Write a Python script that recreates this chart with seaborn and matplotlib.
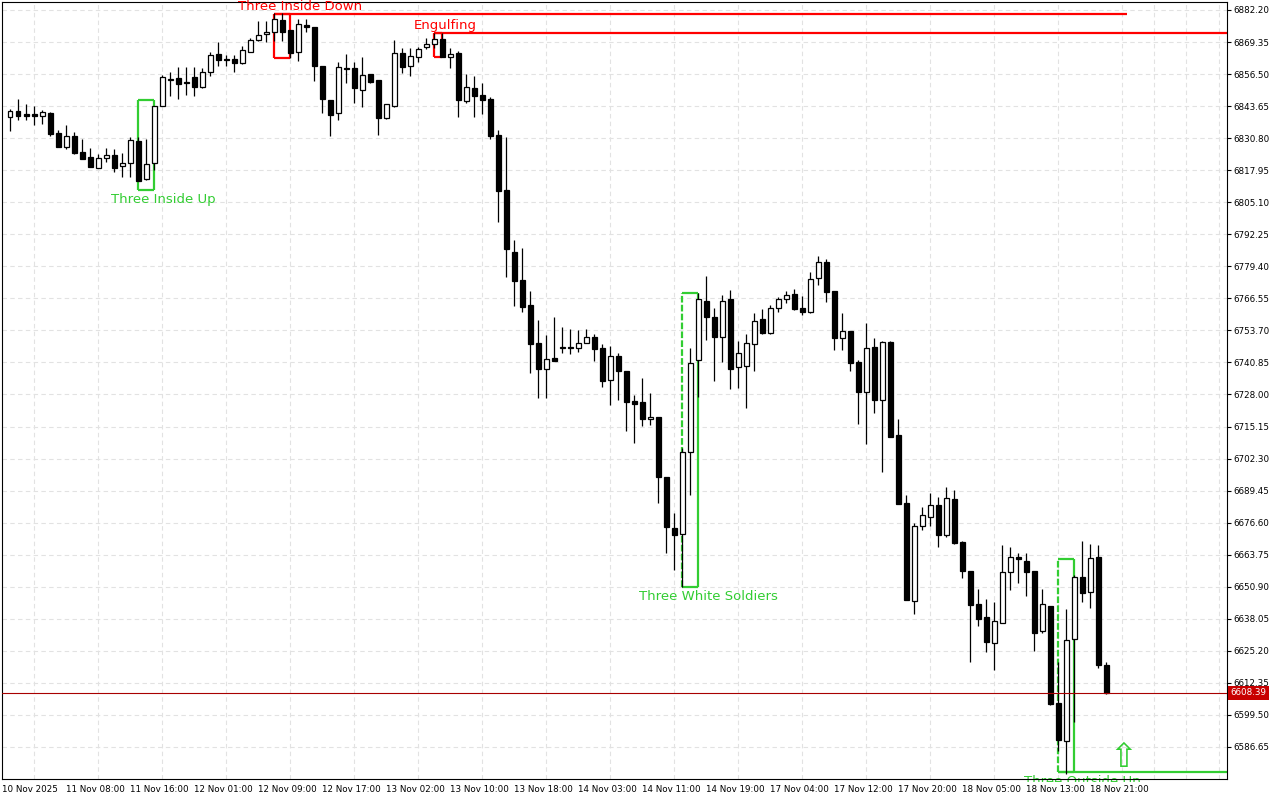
import numpy as np
import pandas as pd
import matplotlib
matplotlib.use("Agg")
import matplotlib.pyplot as plt
import matplotlib.transforms as mtransforms
import seaborn as sns

# hourly bars, 11 Nov 01:00 -> 18 Nov 22:00
opens = [6839.3, 6841.7, 6840.5, 6840.5, 6839.7, 6840.9, 6832.9, 6827.3, 6831.7, 6825.2,
         6823.2, 6818.8, 6822.8, 6824.0, 6819.6, 6820.8, 6829.7, 6814.4, 6820.8, 6843.7,
         6854.1, 6854.9, 6853.3, 6855.3, 6851.3, 6857.3, 6864.5, 6862.6, 6862.5, 6860.9,
         6865.3, 6870.2, 6872.6, 6873.4, 6878.2, 6874.2, 6865.3, 6876.2, 6875.4, 6859.7,
         6846.1, 6840.9, 6858.9, 6858.9, 6850.1, 6856.5, 6854.1, 6838.9, 6843.7, 6864.9,
         6859.7, 6863.3, 6867.4, 6868.6, 6870.6, 6863.3, 6864.9, 6845.7, 6850.9, 6848.1,
         6846.5, 6832.1, 6810.0, 6785.1, 6773.9, 6763.9, 6748.7, 6738.2, 6742.6, 6746.7,
         6747.1, 6746.7, 6748.7, 6751.1, 6746.7, 6733.8, 6743.4, 6737.4, 6725.4, 6725.0,
         6718.2, 6719.0, 6694.9, 6674.5, 6672.1, 6704.9, 6741.8, 6765.5, 6759.1, 6751.1,
         6766.3, 6739.0, 6739.4, 6748.3, 6758.3, 6752.7, 6762.7, 6766.3, 6768.3, 6762.7,
         6761.1, 6774.7, 6781.1, 6769.5, 6750.7, 6753.5, 6741.0, 6729.0, 6747.1, 6725.8,
         6749.1, 6711.8, 6684.5, 6645.2, 6675.3, 6678.9, 6683.7, 6671.7, 6686.1, 6668.9,
         6657.2, 6644.0, 6638.8, 6628.4, 6636.4, 6656.8, 6662.8, 6661.2, 6657.2, 6633.2,
         6643.2, 6604.3, 6589.1, 6630.0, 6654.8, 6648.8, 6662.8, 6619.5]
highs = [6842.5, 6846.5, 6844.5, 6843.7, 6842.1, 6841.3, 6834.1, 6836.1, 6833.3, 6830.5,
         6826.9, 6824.4, 6826.9, 6826.5, 6824.8, 6831.3, 6831.3, 6830.5, 6843.7, 6856.1,
         6857.3, 6859.3, 6859.3, 6859.3, 6858.9, 6865.3, 6869.4, 6864.1, 6864.1, 6867.8,
         6871.0, 6877.8, 6877.8, 6881.0, 6881.0, 6874.2, 6878.6, 6878.6, 6875.4, 6859.7,
         6846.1, 6861.3, 6864.5, 6861.3, 6863.3, 6856.5, 6854.1, 6844.5, 6870.2, 6867.0,
         6867.0, 6867.4, 6871.0, 6873.0, 6873.0, 6867.0, 6865.7, 6856.5, 6855.7, 6852.9,
         6847.3, 6834.1, 6831.3, 6790.0, 6786.8, 6769.5, 6757.9, 6751.9, 6759.1, 6755.1,
         6754.3, 6753.9, 6754.3, 6752.3, 6748.3, 6747.5, 6744.6, 6737.4, 6727.8, 6734.6,
         6728.6, 6719.0, 6694.9, 6680.5, 6706.6, 6746.7, 6768.7, 6775.5, 6762.7, 6767.9,
         6769.9, 6749.5, 6752.3, 6760.7, 6762.3, 6763.9, 6767.1, 6769.5, 6770.3, 6767.5,
         6777.1, 6783.5, 6782.3, 6769.5, 6760.7, 6753.5, 6741.8, 6756.7, 6750.7, 6749.5,
         6749.5, 6718.2, 6687.7, 6676.5, 6682.9, 6688.5, 6686.9, 6690.9, 6689.7, 6669.3,
         6657.2, 6650.0, 6646.0, 6644.8, 6667.7, 6666.9, 6664.4, 6664.4, 6657.2, 6650.0,
         6643.2, 6620.7, 6642.0, 6655.6, 6669.3, 6668.1, 6667.7, 6620.7]
lows = [6833.7, 6838.1, 6838.1, 6836.1, 6836.5, 6831.7, 6827.3, 6826.5, 6824.4, 6822.4,
        6819.2, 6818.8, 6821.2, 6817.2, 6815.2, 6815.2, 6813.6, 6814.0, 6818.0, 6843.7,
        6847.7, 6846.5, 6848.1, 6847.7, 6850.9, 6855.7, 6859.7, 6859.7, 6857.3, 6860.5,
        6865.3, 6869.8, 6869.4, 6869.8, 6869.8, 6862.9, 6861.7, 6873.4, 6853.7, 6840.9,
        6831.7, 6838.1, 6852.9, 6844.9, 6843.3, 6852.9, 6832.1, 6838.5, 6843.3, 6856.9,
        6855.7, 6861.3, 6866.6, 6867.0, 6863.3, 6858.9, 6839.3, 6844.9, 6839.3, 6840.5,
        6830.5, 6797.2, 6775.1, 6763.5, 6761.1, 6736.6, 6726.6, 6726.6, 6741.4, 6744.6,
        6744.2, 6745.0, 6748.5, 6741.4, 6731.0, 6723.8, 6725.8, 6713.4, 6708.6, 6715.4,
        6715.8, 6684.5, 6664.4, 6657.6, 6650.8, 6687.7, 6727.0, 6749.9, 6733.4, 6741.0,
        6730.2, 6730.6, 6722.6, 6737.4, 6752.3, 6752.3, 6761.1, 6764.7, 6761.9, 6759.9,
        6760.7, 6771.9, 6765.1, 6745.9, 6745.9, 6737.4, 6716.2, 6708.2, 6720.6, 6696.9,
        6711.0, 6684.1, 6645.6, 6640.0, 6673.7, 6675.3, 6666.9, 6670.9, 6668.1, 6654.4,
        6620.7, 6635.2, 6624.7, 6617.5, 6636.4, 6649.6, 6652.4, 6647.2, 6625.1, 6632.4,
        6603.5, 6585.0, 6575.8, 6596.7, 6644.8, 6642.4, 6618.3, 6607.8]
closes = [6841.7, 6839.7, 6839.7, 6839.7, 6841.3, 6832.5, 6827.3, 6831.7, 6824.8, 6822.4,
          6819.2, 6822.8, 6824.0, 6818.8, 6820.8, 6830.1, 6813.6, 6820.4, 6843.7, 6855.3,
          6854.5, 6852.5, 6852.9, 6851.3, 6857.3, 6864.1, 6862.1, 6862.2, 6860.9, 6866.2,
          6870.2, 6872.2, 6873.4, 6878.6, 6873.4, 6864.9, 6876.6, 6875.4, 6859.7, 6846.5,
          6840.1, 6859.3, 6858.5, 6850.9, 6856.1, 6853.3, 6838.9, 6844.5, 6864.9, 6859.3,
          6863.7, 6866.6, 6868.6, 6870.6, 6863.3, 6864.5, 6846.1, 6851.3, 6847.7, 6846.1,
          6831.7, 6809.6, 6786.4, 6773.5, 6763.1, 6748.3, 6738.2, 6742.2, 6741.4, 6747.1,
          6746.7, 6748.7, 6751.1, 6746.3, 6733.4, 6743.4, 6737.4, 6725.0, 6724.2, 6718.2,
          6719.0, 6694.9, 6674.9, 6671.7, 6704.9, 6740.6, 6766.3, 6759.1, 6751.1, 6765.5,
          6738.2, 6744.6, 6748.7, 6757.5, 6752.7, 6762.7, 6766.3, 6767.9, 6762.3, 6761.1,
          6774.3, 6781.1, 6769.1, 6750.7, 6753.5, 6740.6, 6729.0, 6746.7, 6725.8, 6749.1,
          6711.0, 6684.1, 6645.6, 6675.3, 6679.7, 6683.7, 6671.7, 6686.5, 6668.5, 6657.2,
          6643.6, 6638.0, 6628.8, 6637.2, 6656.8, 6662.8, 6662.0, 6656.8, 6632.4, 6644.0,
          6603.9, 6589.5, 6629.6, 6654.8, 6648.4, 6662.4, 6619.5, 6608.39]

time_ticks = [-0.975, 7, 15, 23, 31, 39, 47, 55, 63, 71, 79, 87, 95, 103, 111, 119, 127, 135]
time_labels = ["10 Nov 2025", "11 Nov 08:00", "11 Nov 16:00", "12 Nov 01:00", "12 Nov 09:00",
               "12 Nov 17:00", "13 Nov 02:00", "13 Nov 10:00", "13 Nov 18:00", "14 Nov 03:00",
               "14 Nov 11:00", "14 Nov 19:00", "17 Nov 04:00", "17 Nov 12:00", "17 Nov 20:00",
               "18 Nov 05:00", "18 Nov 13:00", "18 Nov 21:00"]
price_ticks = [6882.20, 6869.35, 6856.50, 6843.65, 6830.80, 6817.95, 6805.10, 6792.25,
               6779.40, 6766.55, 6753.70, 6740.85, 6728.00, 6715.15, 6702.30, 6689.45,
               6676.60, 6663.75, 6650.90, 6638.05, 6625.20, 6612.35, 6599.50, 6586.65]
last_price = 6608.39

# candle patterns found on the chart
pat_names = ["Three Inside Up", "Three Inside Down", "Engulfing", "Three White Soldiers", "Three Outside Up"]
pat_first = [16, 33, 53, 84, 131]
pat_last = [18, 35, 54, 86, 133]
pat_top = [6846.1, 6880.6, 6873.1, 6768.8, 6662.0]
pat_bottom = [6810.0, 6863.1, 6863.2, 6650.9, 6576.5]
pat_bull = [True, False, False, True, True]
pat_label_x = [19.15, 36.2, 54.3, 87.3, 134.0]
pat_line_end = [None, 139.6, 170, None, 170]
pat_dashed_left = [False, False, False, True, True]
arrow_bar = 139.1
arrow_price = 6582.6

GREEN = "#32CD32"
RED = "#FF0000"

sns.set_theme(style="white")
plt.rcParams["font.family"] = ["DejaVu Sans"]

df = pd.DataFrame({"open": opens, "high": highs, "low": lows, "close": closes})
df["bar"] = np.arange(len(df))
df["up"] = df["close"] >= df["open"]
df["body_lo"] = df[["open", "close"]].min(axis=1)
df["body_h"] = (df["close"] - df["open"]).abs()

fig = plt.figure(figsize=(12.8, 8), dpi=100)
ax = fig.add_axes([0.00195, 0.02625, 0.95688, 0.97125])
ax.set_facecolor("white")

# candles
ax.vlines(df["bar"], df["low"], df["high"], color="black", lw=0.9, zorder=3)
ax.bar(df["bar"], df["body_h"], bottom=df["body_lo"], width=0.55,
       color=np.where(df["up"], "white", "black"), edgecolor="black", linewidth=0.9, zorder=4)

# labels under the chart are cut a few pixels below the frame
below_box = mtransforms.TransformedBbox(mtransforms.Bbox([[0, -0.004], [1, 1.01]]), ax.transAxes)

# patterns
for i, name in enumerate(pat_names):
    col = GREEN if pat_bull[i] else RED
    x0, x1 = pat_first[i], pat_last[i]
    top, bot = pat_top[i], pat_bottom[i]
    ax.hlines([top, bot], x0, x1, color=col, lw=1.6, zorder=2)
    ax.vlines(x1, bot, top, color=col, lw=1.6, zorder=2)
    ax.vlines(x0, bot, top, color=col, lw=1.6, zorder=2,
              linestyles=(0, (3, 1)) if pat_dashed_left[i] else "solid")
    if pat_line_end[i] is not None:
        ax.hlines(bot if pat_bull[i] else top, x0, pat_line_end[i], color=col, lw=1.6, zorder=2)
    if pat_bull[i]:
        t = ax.text(pat_label_x[i], bot - 1.2, name, color=col, fontsize=9.5, ha="center", va="top",
                    zorder=1)
    else:
        t = ax.text(pat_label_x[i], top + 1.5, name, color=col, fontsize=9.5, ha="center", va="baseline",
                    zorder=5)
    t.set_clip_on(True)
    t.set_clip_box(below_box)

ax.text(arrow_bar, arrow_price, "\u21e7", color=GREEN, fontsize=24, ha="center", va="center", zorder=5)

# current price
ax.axhline(last_price, color="#A80000", lw=0.8, zorder=5)
trans = mtransforms.blended_transform_factory(ax.transAxes, ax.transData)
ax.text(1.0025, last_price, f"{last_price:.2f}", transform=trans, color="white", fontsize=6.3,
        ha="left", va="center", clip_on=False, zorder=10,
        bbox=dict(boxstyle="square,pad=0.3", fc="#C80000", ec="none"))

ax.set_xlim(-0.975, 152.1)
ax.set_ylim(6573.8, 6885.4)

ax.yaxis.tick_right()
ax.set_yticks(price_ticks)
ax.set_yticklabels([f"{v:.2f}" for v in price_ticks])
ax.set_xticks(time_ticks)
ax.set_xticklabels(time_labels)
for lab in ax.get_xticklabels():
    lab.set_ha("left")
ax.set_xticks(np.arange(3, 152, 4), minor=True)
ax.tick_params(axis="x", which="minor", length=0)
ax.tick_params(axis="both", which="major", direction="out", length=3, width=0.8,
               color="black", labelsize=6.3, pad=1.5, labelcolor="black")
ax.yaxis.grid(True, which="major", ls=(0, (4, 3)), color="#E2E2E2", lw=0.8)
ax.xaxis.grid(True, which="minor", ls=(0, (4, 3)), color="#E2E2E2", lw=0.8)
ax.xaxis.grid(False, which="major")
ax.set_axisbelow(True)
for s in ax.spines.values():
    s.set_color("black")
    s.set_linewidth(0.8)

fig.savefig("out.png", dpi=100)
